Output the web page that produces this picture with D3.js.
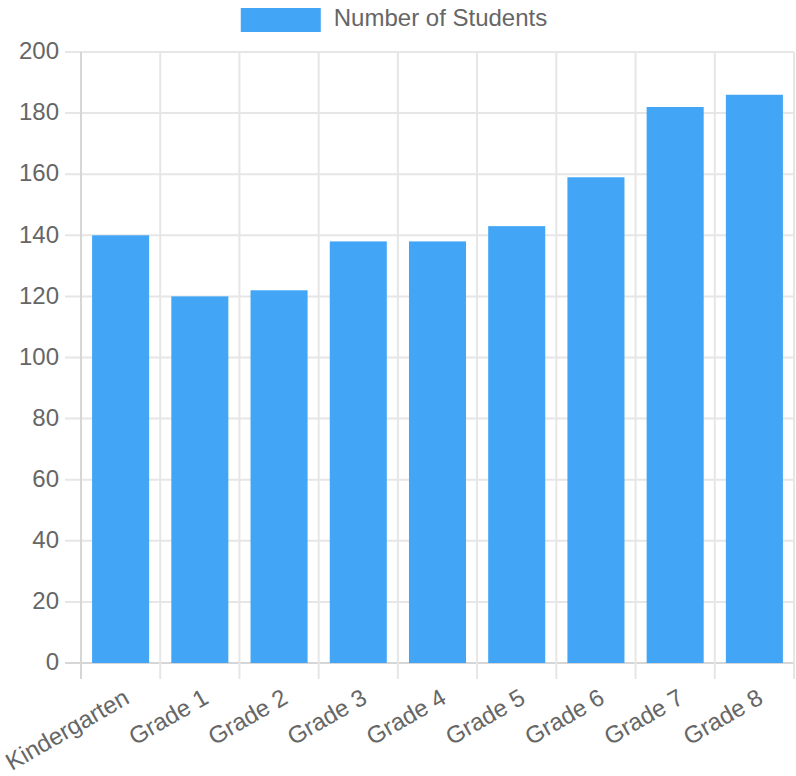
<!DOCTYPE html>
<html>
<head>
<meta charset="utf-8">
<script src="https://cdn.jsdelivr.net/npm/d3@7"></script>
<style>
  html, body { margin: 0; padding: 0; background: #fff; }
  svg text { font-family: "Liberation Sans", Arial, Helvetica, sans-serif; fill: #666; }
</style>
</head>
<body>
<div id="chart"></div>
<script>
// data
const grades = ["Kindergarten", "Grade 1", "Grade 2", "Grade 3", "Grade 4", "Grade 5", "Grade 6", "Grade 7", "Grade 8"];
const students = [140, 120, 122, 138, 138, 143, 159, 182, 186];
const seriesName = "Number of Students";
const yTicks = [0, 20, 40, 60, 80, 100, 120, 140, 160, 180, 200];

const width = 796, height = 776;
const margin = { top: 52, right: 2, bottom: 113, left: 81 };
const innerW = width - margin.left - margin.right;
const innerH = height - margin.top - margin.bottom;
const barColor = "#42A5F5";
const gridColor = "#e6e6e6";
const fontSize = 24;

const svg = d3.select("#chart").append("svg")
  .attr("width", width).attr("height", height);

const x = d3.scaleBand().domain(grades).range([0, innerW]).paddingInner(0).paddingOuter(0);
const y = d3.scaleLinear().domain([0, 200]).range([innerH, 0]);

const g = svg.append("g").attr("transform", `translate(${margin.left},${margin.top})`);

// horizontal grid + y tick marks
g.append("g").selectAll("line").data(yTicks).join("line")
  .attr("x1", -16).attr("x2", innerW)
  .attr("y1", d => y(d)).attr("y2", d => y(d))
  .attr("stroke", d => d === 0 ? "#d6d6d6" : gridColor)
  .attr("stroke-width", 2);

// vertical grid at category boundaries, with tick marks below
const bounds = grades.map(d => x(d)).concat([innerW]);
g.append("g").selectAll("line").data(bounds).join("line")
  .attr("x1", d => d).attr("x2", d => d)
  .attr("y1", 0).attr("y2", innerH + 16)
  .attr("stroke", (d, i) => i === 0 ? "#d6d6d6" : gridColor)
  .attr("stroke-width", 2);

// bars
const barW = x.bandwidth() * 0.72;
g.append("g").selectAll("rect").data(students).join("rect")
  .attr("x", (d, i) => x(grades[i]) + (x.bandwidth() - barW) / 2)
  .attr("y", d => y(d))
  .attr("width", barW)
  .attr("height", d => innerH - y(d))
  .attr("fill", barColor);

// y tick labels
g.append("g").selectAll("text").data(yTicks).join("text")
  .attr("x", -22).attr("y", d => y(d))
  .attr("dy", "0.3em")
  .attr("text-anchor", "end")
  .style("font-size", fontSize + "px")
  .text(d => d);

// x tick labels, rotated
const angle = -30;
g.append("g").selectAll("text").data(grades).join("text")
  .attr("text-anchor", "end")
  .attr("dy", "0.35em")
  .attr("transform", d => `translate(${x(d) + x.bandwidth() / 2 + 6},${innerH + 32}) rotate(${angle})`)
  .style("font-size", fontSize + "px")
  .text(d => d);

// legend
const legend = svg.append("g");
const legendText = legend.append("text")
  .attr("y", 26)
  .style("font-size", fontSize + "px")
  .text(seriesName);
const tw = legendText.node().getComputedTextLength();
const boxW = 80, gap = 13;
const lx = (width - (boxW + gap + tw)) / 2 - 4;
legend.append("rect")
  .attr("x", lx).attr("y", 8)
  .attr("width", boxW).attr("height", 24)
  .attr("fill", barColor);
legendText.attr("x", lx + boxW + gap);
</script>
</body>
</html>
